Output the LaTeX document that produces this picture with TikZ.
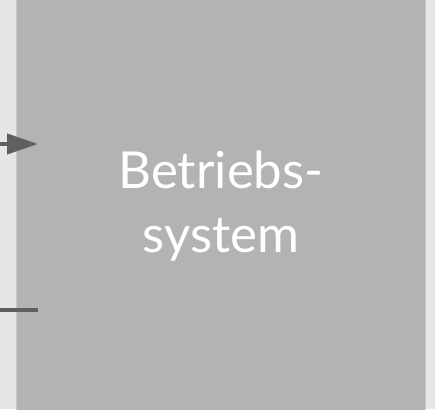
\documentclass[tikz,border=0pt]{standalone}
\usepackage{fontspec}
\setmainfont{Lato}
\usetikzlibrary{arrows.meta, positioning, calc}
\definecolor{cBack}{RGB}{230,230,230}
\definecolor{cBlock}{RGB}{179,179,179}
\definecolor{cEdge}{RGB}{200,200,200}
\definecolor{cWire}{RGB}{95,95,95}
\tikzset{
	osblk/.style  ={rectangle, draw=cEdge, line width=1pt, fill=cBlock, minimum width=409pt, minimum height=424pt, inner sep=0pt, align=center, text=white, font=\fontsize{51}{64}\selectfont},
	wire/.style   ={draw=cWire, line width=4pt},
	sigarrow/.style={wire, -{Triangle[length=31pt, width=20pt]}},
}
\begin{document}
\begin{tikzpicture}[x=1pt, y=1pt]
	\fill[cBack] (0,0) rectangle (435,409);
	\useasboundingbox (0,0) rectangle (435,409);
	\node[osblk] (os) at (221,203) {Betriebs-\\system};
	\coordinate (inA) at (0,265);
	\coordinate (inB) at (0,99);
	\draw[sigarrow] (inA) -- ($(os.west |- inA)+(22,0)$);
	\draw[wire] (inB) -- ($(os.west |- inB)+(22,0)$);
\end{tikzpicture}
\end{document}
